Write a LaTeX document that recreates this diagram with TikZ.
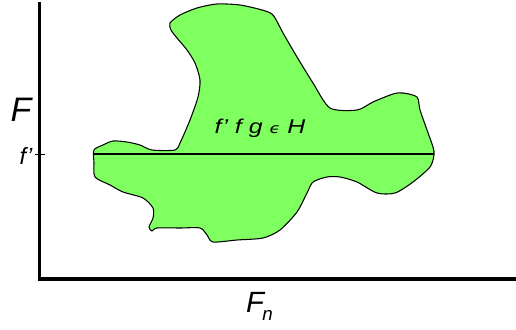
\documentclass[tikz,border=0pt]{standalone}
\usepackage{fontspec}
\usepackage{graphicx}
\setmainfont{Liberation Sans}
\newfontfamily\symfont{DejaVu Sans}
\usetikzlibrary{calc}
\definecolor{blobgreen}{HTML}{80FF60}
\tikzset{
  axisline/.style={line width=2.6pt, black},
  blob/.style={draw=black, line width=0.9pt, fill=blobgreen, line join=round},
  lbl/.style={font=\itshape, inner sep=0pt},
}
\begin{document}
\begin{tikzpicture}[x=0.3mm, y=-0.3mm]
\useasboundingbox (0,0) rectangle (516,329);
% region
\draw[blob] plot[smooth cycle, tension=0.45] coordinates {
  (170,23) (180,15) (197,8) (217,4) (240,5) (262,10) (273,15) (283,33)
  (297,57) (313,83) (330,108) (357,110) (373,102) (393,94) (403,93)
  (417,97) (420,110) (427,130) (433,147) (434,155) (430,167) (413,182)
  (395,193) (377,193) (357,182) (340,177) (327,177) (313,182) (307,193)
  (297,212) (280,230) (263,238) (237,240) (213,242) (207,235) (200,228)
  (180,228) (157,228) (152,231) (149,227) (153,218) (153,208) (143,198)
  (123,192) (110,185) (95,177) (94,163) (94,150) (103,145) (113,141)
  (127,142) (140,145) (152,150) (175,150) (180,143) (190,120) (198,97)
  (200,80) (195,63) (187,50) (177,38) (171,30)};
% axes
\coordinate (top) at (39.5,2);
\coordinate (orig) at (39.5,279);
\coordinate (right) at (516,279);
\draw[axisline] (top) -- (orig) -- (right);
% level line
\coordinate (lvlL) at (94,154);
\coordinate (lvlR) at (434,154);
\draw[line width=0.9pt] (lvlL) -- (lvlR);
\draw[line width=0.8pt] ($(orig|-lvlL)+(-5,0)$) -- ($(orig|-lvlL)+(5,0)$);
% labels
\node[lbl, font=\fontsize{29}{29}\selectfont\itshape] (Flbl) at (21,110) {F};
\node[lbl, font=\fontsize{20}{20}\selectfont\itshape] (fplbl) at (26,156) {f'};
\node[lbl, anchor=base, font=\fontsize{17}{17}\selectfont\itshape] (hlbl) at (260,133)
  {\scalebox{1.25}[1]{f' f g {\symfont\fontsize{12}{12}\selectfont ϵ} H}};
\node[lbl, anchor=base west, font=\fontsize{25}{25}\selectfont\itshape] (Fnlbl) at (246,312)
  {F\kern-0.06em{\fontsize{16}{16}\selectfont\raisebox{-0.45em}{n}}};
\end{tikzpicture}
\end{document}
